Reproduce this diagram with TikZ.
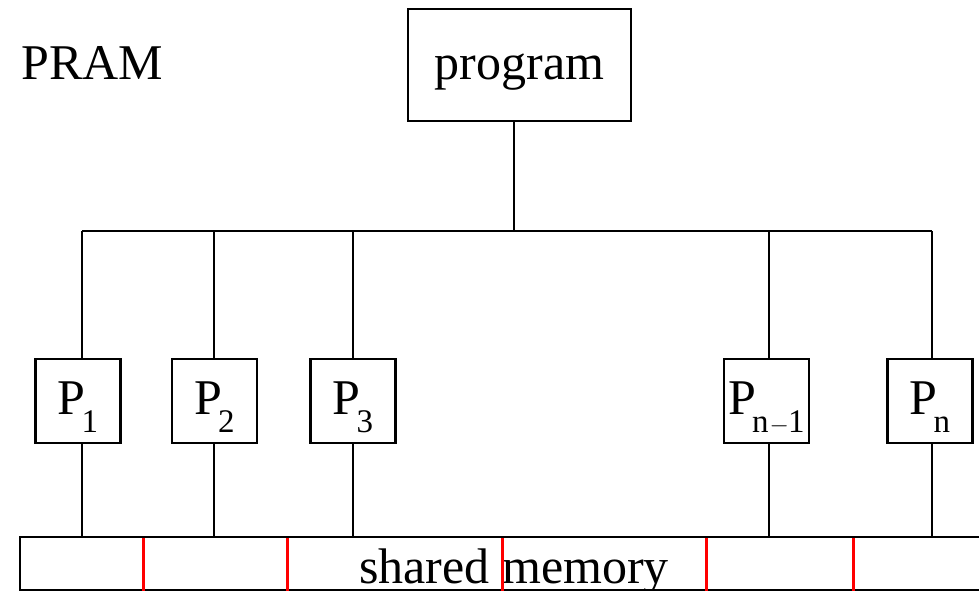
\documentclass[tikz,border=0pt]{standalone}
\usepackage{fontspec}
\setmainfont{Liberation Serif}
\begin{document}
\begin{tikzpicture}[x=1pt,y=-1pt,
  lbl/.style={font=\fontsize{50}{60}\selectfont},
  box/.style={draw=black,line width=2.2pt,inner sep=0pt,lbl},
  pbox/.style={box,minimum width=85pt,minimum height=84pt,text height=40pt,text depth=14pt},
  wire/.style={draw=black,line width=2.2pt},
  sep/.style={draw=red,line width=3pt}]
\clip (0,0) rectangle (979,591);
\fill[white] (0,0) rectangle (979,591);
% title
\node[lbl,anchor=base west,inner sep=0pt] (pram) at (21,80) {PRAM};
% program
\node[box,minimum width=223pt,minimum height=112pt,text height=40pt,text depth=10pt] (prog) at (519.5,65) {program};
% processors
\newcommand{\proc}[1]{P\kern-4pt\raisebox{-18pt}{\fontsize{33}{33}\selectfont #1}}
\node[pbox] (P1) at (78,401) {\proc{1}};
\node[pbox] (P2) at (214.5,401) {\proc{2}};
\node[pbox] (P3) at (353,401) {\proc{3}};
\node[pbox] (Pm) at (766.5,401) {\proc{n\kern1pt$-$\kern-1pt1}};
\node[pbox] (Pn) at (930,401) {\proc{n}};
% memory
\node[draw=black,line width=2.2pt,minimum width=965pt,minimum height=53pt,inner sep=0pt] (mem) at (502.5,563.5) {};
\node[lbl,anchor=base,inner sep=0pt] (memlbl) at (514,583) {shared memory};
% bus
\coordinate (bus) at (514,231);
\coordinate (t1) at (82,231);
\coordinate (t2) at (214,231);
\coordinate (t3) at (353,231);
\coordinate (t4) at (769,231);
\coordinate (t5) at (932,231);
\draw[wire] (prog.south -| bus) -- (bus);
\draw[wire] (t1) -- (t5);
\foreach \t/\p in {t1/P1,t2/P2,t3/P3,t4/Pm,t5/Pn}{
  \draw[wire] (\t) -- (\t |- \p.north);
  \draw[wire] (\t |- \p.south) -- (\t |- mem.north);
}
% memory cell separators
\foreach \x in {143,287,502,706,853}{
  \draw[sep] (\x,538) -- (\x,591);
}
\end{tikzpicture}
\end{document}
